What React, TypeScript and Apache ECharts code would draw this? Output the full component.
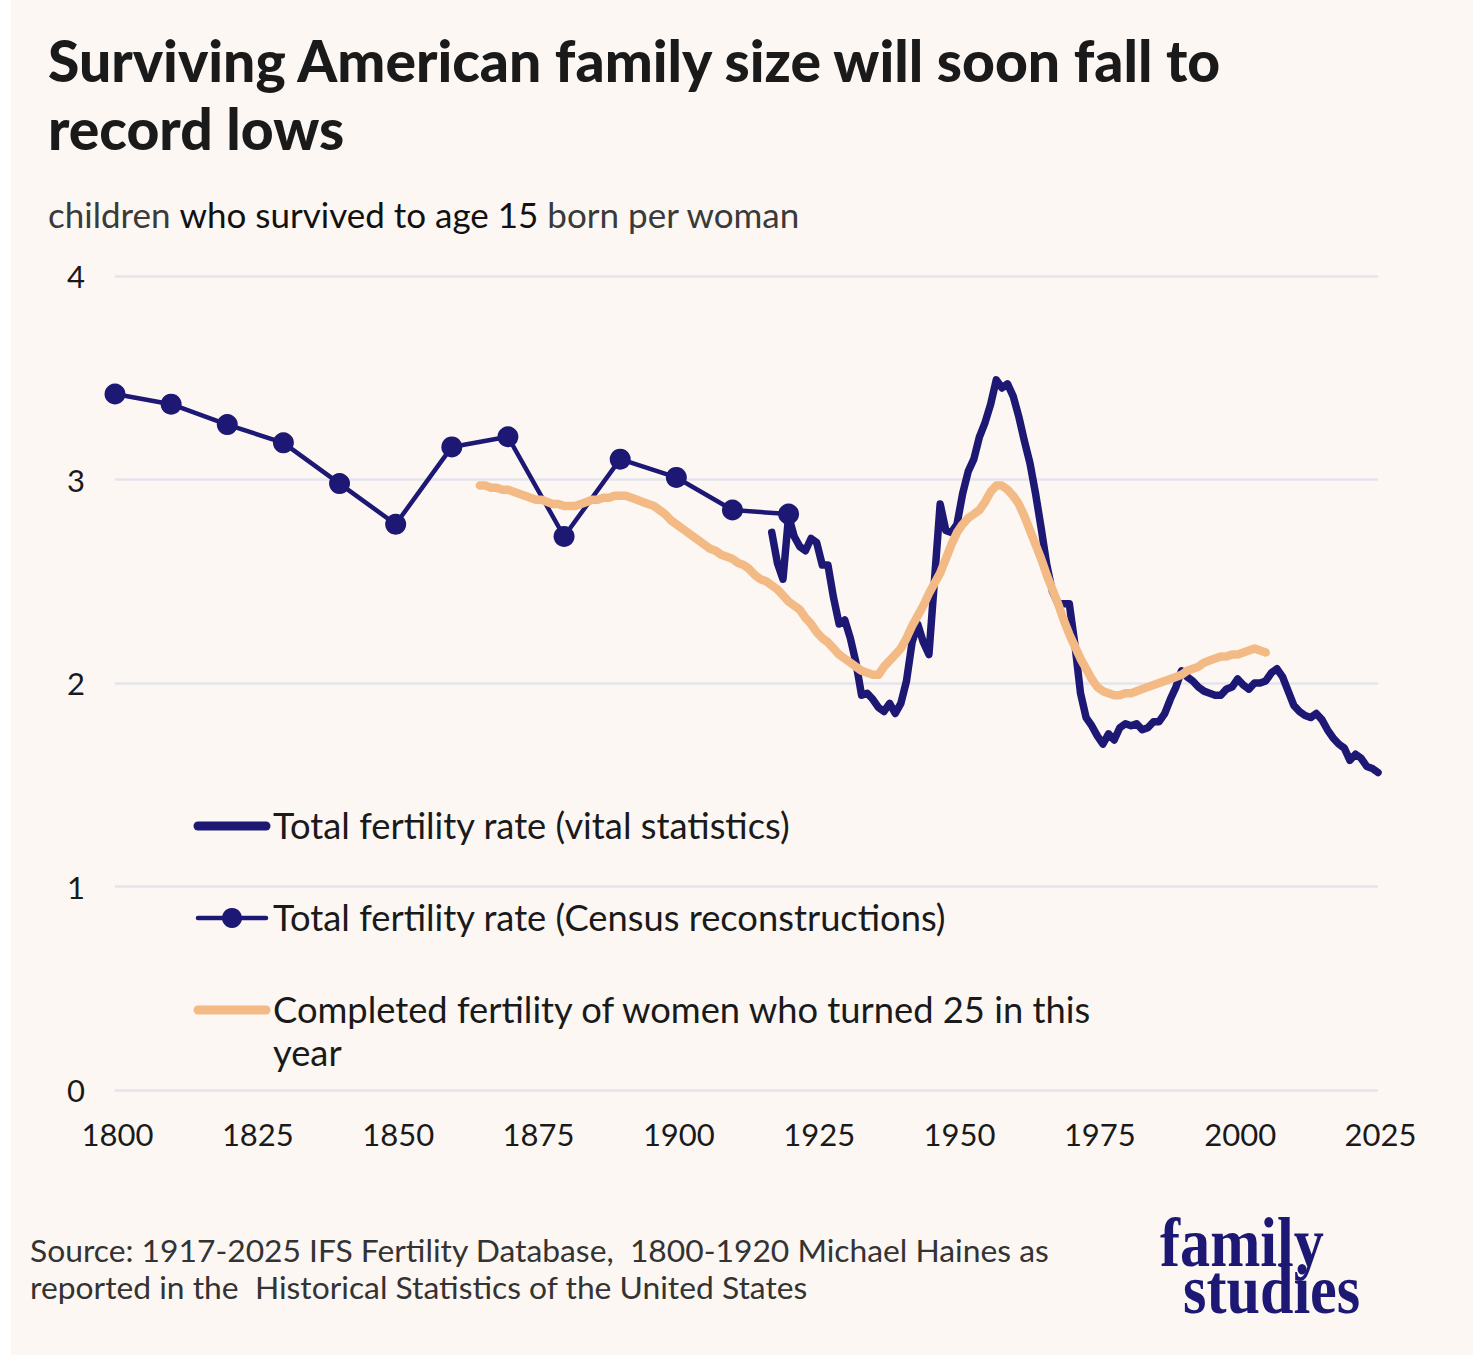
import React, { useEffect, useRef } from "react";
import * as echarts from "echarts";

// Census reconstructions, 1800-1920 (children surviving to 15 per woman)
const censusYears = [1800, 1810, 1820, 1830, 1840, 1850, 1860, 1870, 1880, 1890, 1900, 1910, 1920];
const censusTfr = [3.42, 3.37, 3.27, 3.18, 2.98, 2.78, 3.16, 3.21, 2.72, 3.10, 3.01, 2.85, 2.83];

// Vital statistics, annual from 1917 to 2025
const vitalFirstYear = 1917;
const vitalTfr = [
  2.74, 2.59, 2.51,
  2.82, 2.72, 2.67, 2.65, 2.71, 2.69, 2.58, 2.58, 2.42, 2.29,
  2.31, 2.22, 2.10, 1.94, 1.95, 1.92, 1.88, 1.86, 1.90, 1.85,
  1.90, 2.01, 2.20, 2.29, 2.20, 2.14, 2.51, 2.88, 2.75, 2.74,
  2.78, 2.93, 3.04, 3.10, 3.21, 3.28, 3.37, 3.49, 3.45, 3.47,
  3.41, 3.31, 3.19, 3.08, 2.93, 2.76, 2.58, 2.45, 2.39, 2.39,
  2.39, 2.19, 1.95, 1.83, 1.79, 1.74, 1.70, 1.75, 1.72, 1.78,
  1.80, 1.79, 1.80, 1.77, 1.78, 1.81, 1.81, 1.85, 1.92, 1.98,
  2.06, 2.03, 2.01, 1.98, 1.96, 1.95, 1.94, 1.94, 1.97, 1.98,
  2.02, 1.99, 1.97, 2.00, 2.00, 2.01, 2.05, 2.07, 2.03, 1.96,
  1.89, 1.86, 1.84, 1.83, 1.85, 1.82, 1.77, 1.73, 1.70, 1.68,
  1.62, 1.65, 1.63, 1.59, 1.58, 1.56,
];

// Completed fertility of women who turned 25 in the given year, 1865-2005
const cohortFirstYear = 1865;
const cohortFertility = [
  2.97, 2.97, 2.96, 2.96, 2.95,
  2.95, 2.94, 2.93, 2.92, 2.91, 2.90, 2.90, 2.89, 2.88, 2.88,
  2.87, 2.87, 2.87, 2.88, 2.89, 2.90, 2.90, 2.91, 2.91, 2.92,
  2.92, 2.92, 2.91, 2.90, 2.89, 2.88, 2.87, 2.85, 2.83, 2.80,
  2.78, 2.76, 2.74, 2.72, 2.70, 2.68, 2.66, 2.65, 2.63, 2.62,
  2.61, 2.59, 2.58, 2.56, 2.53, 2.51, 2.50, 2.48, 2.46, 2.43,
  2.40, 2.38, 2.36, 2.32, 2.29, 2.25, 2.22, 2.20, 2.17, 2.14,
  2.12, 2.10, 2.08, 2.06, 2.05, 2.04, 2.04, 2.08, 2.11, 2.14,
  2.17, 2.22, 2.28, 2.33, 2.38, 2.44, 2.49, 2.54, 2.61, 2.68,
  2.74, 2.78, 2.81, 2.83, 2.85, 2.89, 2.94, 2.97, 2.97, 2.95,
  2.92, 2.88, 2.82, 2.75, 2.68, 2.61, 2.53, 2.46, 2.39, 2.31,
  2.24, 2.18, 2.12, 2.07, 2.02, 1.98, 1.96, 1.95, 1.94, 1.94,
  1.95, 1.95, 1.96, 1.97, 1.98, 1.99, 2.00, 2.01, 2.02, 2.03,
  2.04, 2.06, 2.07, 2.08, 2.10, 2.11, 2.12, 2.13, 2.13, 2.14,
  2.14, 2.15, 2.16, 2.17, 2.16, 2.15,
];

const xTicks = [1800, 1825, 1850, 1875, 1900, 1925, 1950, 1975, 2000, 2025];
const yTicks = [0, 1, 2, 3, 4];

const legendLabels = [
  "Total fertility rate (vital statistics)",
  "Total fertility rate (Census reconstructions)",
  "Completed fertility of women who turned 25 in this\nyear",
];

const NAVY = "#1c1873";
const PEACH = "#f3ba85";
const BG = "#fcf7f3";
const INK = "#1a1a1a";
const GREY = "#333333";
const FONT = "Lato, 'Noto Sans', sans-serif";
const SERIF = "'Liberation Serif', 'DejaVu Serif', serif";

export default function App() {
  const ref = useRef<HTMLDivElement>(null);

  useEffect(() => {
    if (!ref.current) return;
    const chart = echarts.init(ref.current, undefined, { renderer: "svg" });

    const census = censusYears.map((y, i) => [y, censusTfr[i]]);
    const vital = vitalTfr.map((v, i) => [vitalFirstYear + i, v]);
    const cohort = cohortFertility.map((v, i) => [cohortFirstYear + i, v]);

    const legendX0 = 198;
    const legendX1 = 266;
    const legendTextX = 273;
    const legendYs = [826, 918, 1010];

    chart.setOption({
      animation: false,
      backgroundColor: "transparent",
      grid: { left: 115, right: 98, top: 276, bottom: 274, containLabel: false },
      xAxis: {
        type: "value",
        min: xTicks[0],
        max: xTicks[xTicks.length - 1],
        interval: 25,
        axisLine: { show: false },
        axisTick: { show: false },
        splitLine: { show: false },
        axisLabel: {
          margin: 28,
          fontFamily: FONT,
          fontSize: 31,
          color: INK,
          padding: [0, 0, 0, 5],
          formatter: (v: number) => String(v),
        },
      },
      yAxis: {
        type: "value",
        min: yTicks[0],
        max: yTicks[yTicks.length - 1],
        interval: 1,
        axisLine: { show: false },
        axisTick: { show: false },
        splitLine: { show: true, lineStyle: { color: "#e5e4eb", width: 2.5 } },
        axisLabel: {
          margin: 30,
          fontFamily: FONT,
          fontSize: 31,
          color: INK,
        },
      },
      series: [
        {
          name: legendLabels[1],
          type: "line",
          data: census,
          symbol: "circle",
          symbolSize: 21,
          itemStyle: { color: NAVY },
          lineStyle: { color: NAVY, width: 4.5 },
          z: 3,
        },
        {
          name: legendLabels[0],
          type: "line",
          data: vital,
          showSymbol: false,
          symbol: "none",
          lineStyle: { color: NAVY, width: 7.5, cap: "round", join: "round" },
          z: 4,
        },
        {
          name: legendLabels[2],
          type: "line",
          data: cohort,
          showSymbol: false,
          symbol: "none",
          lineStyle: { color: PEACH, width: 8.5, cap: "round", join: "round" },
          z: 5,
        },
      ],
      graphic: [
        {
          type: "text",
          x: 48,
          y: 60,
          style: {
            text: "Surviving American family size will soon fall to",
            font: `900 57px ${FONT}`,
            fill: INK,
            verticalAlign: "middle",
          },
        },
        {
          type: "text",
          x: 48,
          y: 128,
          style: {
            text: "record lows",
            font: `900 57px ${FONT}`,
            fill: INK,
            verticalAlign: "middle",
          },
        },
        {
          type: "text",
          x: 48,
          y: 214,
          style: {
            text: "{g|children }{k|who survived to age 15}{g| born per woman}",
            verticalAlign: "middle",
            rich: {
              g: { font: `35px ${FONT}`, fill: "#3a3a3a" },
              k: { font: `35px ${FONT}`, fill: "#111111" },
            },
          },
        },
        // legend
        {
          type: "line",
          shape: { x1: legendX0, y1: legendYs[0], x2: legendX1, y2: legendYs[0] },
          style: { stroke: NAVY, lineWidth: 9, lineCap: "round" },
        },
        {
          type: "line",
          shape: { x1: legendX0, y1: legendYs[1], x2: legendX1, y2: legendYs[1] },
          style: { stroke: NAVY, lineWidth: 4.5, lineCap: "round" },
        },
        {
          type: "circle",
          shape: { cx: (legendX0 + legendX1) / 2, cy: legendYs[1], r: 10 },
          style: { fill: NAVY },
        },
        {
          type: "line",
          shape: { x1: legendX0, y1: legendYs[2], x2: legendX1, y2: legendYs[2] },
          style: { stroke: PEACH, lineWidth: 9, lineCap: "round" },
        },
        ...legendLabels.map((t, i) => ({
          type: "text",
          x: legendTextX,
          y: legendYs[i] - 23,
          style: {
            text: t,
            font: `36.3px ${FONT}`,
            fill: INK,
            lineHeight: 43,
            verticalAlign: "top",
          },
        })),
        // source note
        {
          type: "text",
          x: 30,
          y: 1231,
          style: {
            text:
              "Source: 1917-2025 IFS Fertility Database,  1800-1920 Michael Haines as\nreported in the  Historical Statistics of the United States",
            font: `31.8px ${FONT}`,
            fill: GREY,
            lineHeight: 37,
            verticalAlign: "top",
          },
        },
        // wordmark
        {
          type: "text",
          x: 1160,
          y: 1242,
          scaleX: 0.86,
          style: {
            text: "family",
            font: `bold 70px ${SERIF}`,
            fill: NAVY,
            verticalAlign: "middle",
          },
        },
        {
          type: "text",
          x: 1183,
          y: 1289,
          scaleX: 0.86,
          style: {
            text: "studies",
            font: `bold 70px ${SERIF}`,
            fill: NAVY,
            verticalAlign: "middle",
          },
        },
      ],
    });

    return () => chart.dispose();
  }, []);

  return (
    <div
      style={{
        position: "fixed",
        left: 0,
        top: 0,
        width: 1476,
        height: 1364,
        background: "#ffffff",
        overflow: "hidden",
      }}
    >
      <div
        style={{
          position: "absolute",
          left: 11,
          top: 0,
          width: 1462,
          height: 1355,
          background: BG,
        }}
      />
      <div
        ref={ref}
        style={{ position: "absolute", left: 0, top: 0, width: 1476, height: 1364 }}
      />
    </div>
  );
}
